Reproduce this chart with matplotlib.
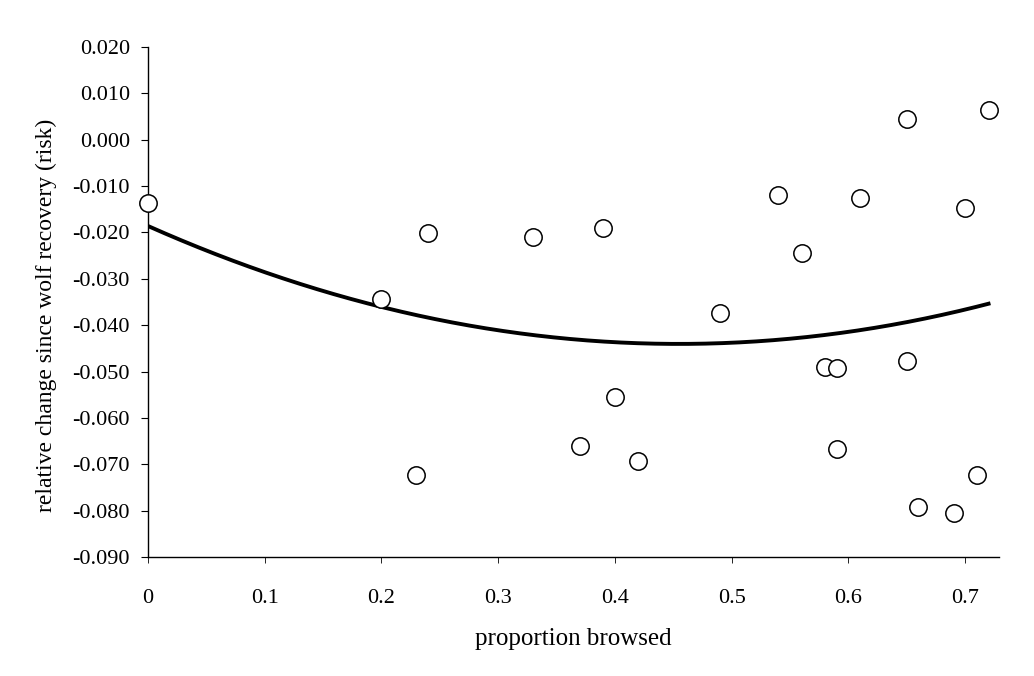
import matplotlib.pyplot as plt
import numpy as np

# proportion browsed vs relative change since wolf recovery (risk)
browsed = np.array([0.00, 0.20, 0.23, 0.24, 0.33, 0.37, 0.39, 0.40, 0.42, 0.49,
                    0.54, 0.56, 0.58, 0.59, 0.59, 0.61, 0.65, 0.65, 0.66, 0.69,
                    0.70, 0.71, 0.72])
risk = np.array([-0.0136, -0.0344, -0.0723, -0.0202, -0.0210, -0.0661, -0.0190,
                 -0.0555, -0.0693, -0.0373, -0.0119, -0.0245, -0.0490, -0.0493,
                 -0.0666, -0.0126, 0.0044, -0.0477, -0.0792, -0.0806, -0.0148,
                 -0.0722, 0.0064])
xtick_vals = [0, 0.1, 0.2, 0.3, 0.4, 0.5, 0.6, 0.7]
xtick_labels = ['0', '0.1', '0.2', '0.3', '0.4', '0.5', '0.6', '0.7']
ytick_vals = [-0.09, -0.08, -0.07, -0.06, -0.05, -0.04, -0.03, -0.02, -0.01, 0.0, 0.01, 0.02]
ytick_labels = ['-0.090', '-0.080', '-0.070', '-0.060', '-0.050', '-0.040',
                '-0.030', '-0.020', '-0.010', '0.000', '0.010', '0.020']

# quadratic trend line
coef = np.polyfit(browsed, risk, 2)
xs = np.linspace(0, 0.72, 200)
ys = np.polyval(coef, xs)

plt.rcParams['font.family'] = ['Liberation Serif', 'DejaVu Serif']

fig = plt.figure(figsize=(10.34, 6.76), dpi=100)
ax = fig.add_axes([0.1431, 0.1760, 0.8231, 0.7544])

ax.plot(xs, ys, color='black', linewidth=2.8, zorder=2)
ax.plot(browsed, risk, 'o', markersize=12.5, markerfacecolor='white',
        markeredgecolor='black', markeredgewidth=1.1, zorder=3, clip_on=False)

ax.set_xlim(0, 0.729)
ax.set_ylim(-0.090, 0.020)
ax.set_xticks(xtick_vals)
ax.set_xticklabels(xtick_labels)
ax.set_yticks(ytick_vals)
ax.set_yticklabels(ytick_labels)

ax.spines['top'].set_visible(False)
ax.spines['right'].set_visible(False)
ax.spines['left'].set_linewidth(1.0)
ax.spines['bottom'].set_linewidth(1.0)
ax.tick_params(axis='y', direction='out', length=5, width=0.8, labelsize=16, pad=8)
ax.tick_params(axis='x', direction='out', length=4, width=0.6, labelsize=16, pad=19)

ax.set_xlabel('proportion browsed', fontsize=18)
ax.xaxis.set_label_coords(0.5, -0.139)
ax.set_ylabel('relative change since wolf recovery (risk)', fontsize=17)
ax.yaxis.set_label_coords(-0.107, 0.4745)

fig.savefig('out.png', dpi=100)
